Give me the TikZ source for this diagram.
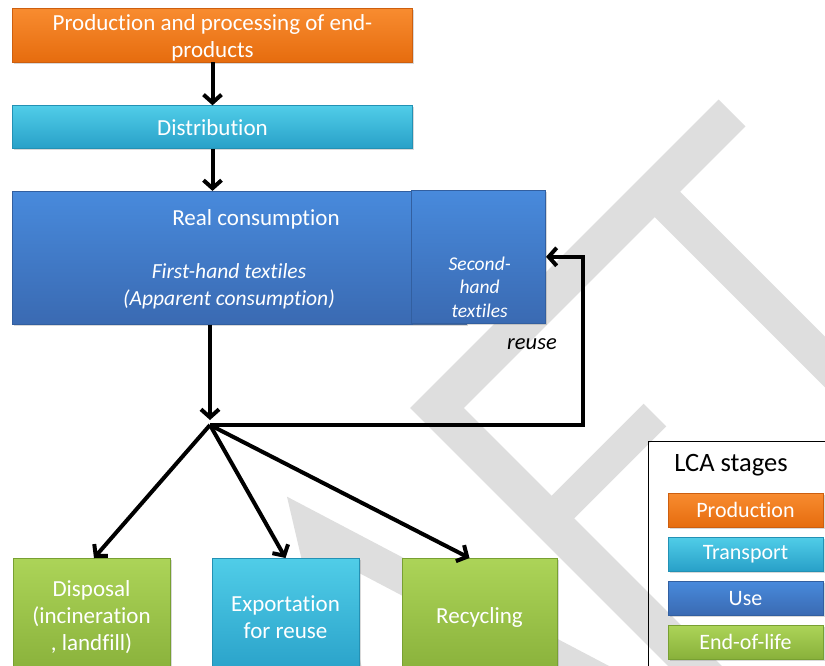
\documentclass[tikz,border=0pt]{standalone}
\usepackage{fontspec}
\setmainfont{Carlito}[Ligatures=NoCommon]
\usepackage{xcolor}
\usetikzlibrary{arrows.meta,positioning,calc,shadows}

\definecolor{prodtop}{RGB}{248,140,48}
\definecolor{prodbot}{RGB}{230,108,14}
\definecolor{prodedge}{RGB}{205,95,15}
\definecolor{transtop}{RGB}{80,205,232}
\definecolor{transbot}{RGB}{40,160,200}
\definecolor{transedge}{RGB}{35,145,180}
\definecolor{usetop}{RGB}{72,138,220}
\definecolor{usebot}{RGB}{58,106,178}
\definecolor{useedge}{RGB}{50,95,160}
\definecolor{eoltop}{RGB}{172,212,88}
\definecolor{eolbot}{RGB}{136,176,58}
\definecolor{eoledge}{RGB}{120,160,50}
\definecolor{wmgray}{RGB}{222,222,222}

\begin{document}
\begin{tikzpicture}[
    x=1pt, y=-1pt,
    node distance=43pt and 20pt,
    >={Straight Barb[length=8pt,width=18pt]},
    every node/.style={font=\fontsize{23}{27}\selectfont},
    box/.style={draw, line width=0.6pt, minimum height=43pt, align=center,
                text=white, inner sep=2pt,
                drop shadow={shadow xshift=1.5pt, shadow yshift=-1.5pt,
                             opacity=0.3}},
    prodbox/.style={box, draw=prodedge, top color=prodtop, bottom color=prodbot},
    transbox/.style={box, draw=transedge, top color=transtop, bottom color=transbot},
    usebox/.style={box, draw=useedge, top color=usetop, bottom color=usebot},
    eolbox/.style={box, draw=eoledge, top color=eoltop, bottom color=eolbot},
    legitem/.style={minimum width=155pt, minimum height=34pt,
                    font=\fontsize{22}{25}\selectfont},
    arr/.style={->, line width=4pt},
    wm/.style={draw=wmgray, line width=38pt},
]
\clip (0,0) rectangle (825,665);

% --- Background watermark ---
\draw[wm] (732,113) -- (437,408) -- (900,871);
\draw[wm, line width=36pt] (654,191) -- (900,437);
\draw[wm, line width=32pt] (655,415) -- (549,521);
\draw[wm, line width=34pt] (352,700) -- (312,529) -- (660,712);

% --- Production and distribution ---
\node[prodbox, minimum width=400pt, minimum height=54pt] (prod) at (212.5,35) {};
\node[text=white, align=center] (prodtxt) at ([yshift=-3pt]prod.center)
    {Production and processing of end-\\products};
\node[transbox, minimum width=400pt, below=43pt of prod] (dist) {Distribution};

% --- Consumption ---
\node[usebox, minimum width=454pt, minimum height=133pt,
      below=42pt of dist.south west, anchor=north west] (real) {};
\node[text=white] (realtxt) at (256,219) {Real consumption};
\node[text=white, align=center, font=\fontsize{21.5}{27}\selectfont\itshape]
    (firsthand) at (229,286.5) {First-hand textiles\\(Apparent consumption)};
\node[usebox, minimum width=134pt, minimum height=133pt, anchor=north east]
    (second) at (546,190) {};
\node[text=white, align=center, font=\fontsize{19.5}{23.5}\selectfont\itshape]
    (secondtxt) at ([xshift=1pt,yshift=-30pt]second.center)
    {Second-\\hand\\textiles};

% --- Flows ---
\coordinate (jn) at (210,425);
\draw[arr] (prod.south) -- (dist.north);
\draw[arr] (dist.south) -- (dist.south |- real.north);
\draw[arr, shorten >=5pt] (real.south -| jn) -- (jn);
\draw[arr] (jn) -| ([xshift=37pt]second.east) -- (second.east);
\node[font=\fontsize{22.5}{27}\selectfont\itshape] (reuselbl) at (532,344) {reuse};

% --- End-of-life routes ---
\node[eolbox, minimum width=157pt, minimum height=118pt, anchor=north] (disp)
    at (91.5,558) {Disposal\\(incineration\\, landfill)};
\node[transbox, minimum width=147pt, minimum height=118pt, anchor=north] (export)
    at (285.5,558) {Exportation\\for reuse};
\node[eolbox, minimum width=155pt, minimum height=118pt, anchor=north] (recyc)
    at (479.5,558) {Recycling};

\draw[arr] (jn) -- ([xshift=2.5pt]disp.north);
\draw[arr] (jn) -- (export.north);
\draw[arr] (jn) -- ([xshift=-10pt]recyc.north);

% --- Legend ---
\node[draw, line width=1.2pt, minimum width=200pt, minimum height=250pt,
      anchor=north west] (legend) at (648,441) {};
\node[font=\fontsize{26.5}{30}\selectfont] (lcatitle) at (731,465) {LCA stages};
\node[prodbox, legitem] (lprod) at (745.5,510) {Production};
\node[transbox, legitem, below=9.5pt of lprod] (ltrans) {Transport};
\node[usebox, legitem, below=9.5pt of ltrans] (luse) {Use};
\node[eolbox, legitem, below=9.5pt of luse] (leol) {End-of-life};

\end{tikzpicture}
\end{document}
